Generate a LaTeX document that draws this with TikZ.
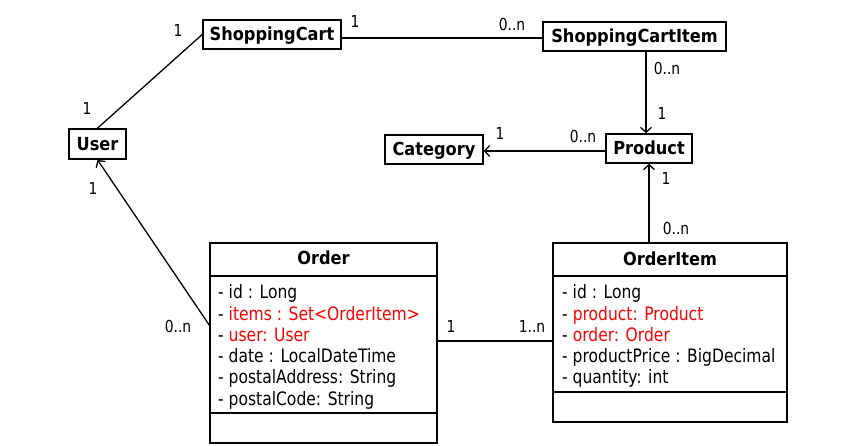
\documentclass[tikz,border=0pt]{standalone}
\usepackage{fontspec}
\setmainfont{DejaVu Sans}[FakeStretch=0.9]
\newfontfamily\attrfont{DejaVu Sans}[FakeStretch=0.84]
\usetikzlibrary{arrows.meta}
\definecolor{attrred}{RGB}{255,0,0}
\begin{document}
\begin{tikzpicture}[x=1pt,y=-1pt,
  classbox/.style={draw=black,line width=1.6pt,inner sep=0pt,
    font=\fontsize{18}{21}\selectfont\bfseries,text height=13pt,text depth=0pt},
  umlbox/.style={draw=black,line width=1.6pt,inner sep=0pt},
  titletext/.style={inner sep=0pt,anchor=base,font=\fontsize{18}{21}\selectfont\bfseries},
  attr/.style={inner sep=0pt,anchor=base west,font=\attrfont\fontsize{18.5}{21}\selectfont},
  mult/.style={inner sep=0pt,font=\attrfont\fontsize{16.5}{18}\selectfont},
  assoc/.style={draw=black,line width=1.3pt},
  nav/.style={assoc,-{Straight Barb[length=5pt,width=11pt,line width=1.3pt]}},
  divider/.style={draw=black,line width=1.6pt}
]
\useasboundingbox (0,0) rectangle (849,446);

% simple classes
\node[classbox,minimum width=138pt,minimum height=29pt] (cart) at (272,34.5) {ShoppingCart};
\node[classbox,minimum width=57pt,minimum height=30pt] (user) at (97.5,144) {User};
\node[classbox,minimum width=98pt,minimum height=29pt] (category) at (434,149.5) {Category};
\node[classbox,minimum width=86pt,minimum height=29pt] (product) at (649,148.5) {Product};
\node[classbox,minimum width=183pt,minimum height=29pt] (cartitem) at (634.5,36.5) {ShoppingCartItem};

% Order class
\node[umlbox,minimum width=227pt,minimum height=200pt] (order) at (323.5,343) {};
\node[titletext] (ordertitle) at (323.5,265) {Order};
\coordinate (od1l) at (210,276); \coordinate (od1r) at (437,276);
\coordinate (od2l) at (210,413); \coordinate (od2r) at (437,413);
\draw[divider] (od1l) -- (od1r);
\draw[divider] (od2l) -- (od2r);
\node[attr] (oa1) at (218,299) {- id : Long};
\node[attr] (oa2) at (218,320.2) {- \textcolor{attrred}{items : Set<OrderItem>}};
\node[attr] (oa3) at (218,341.4) {- \textcolor{attrred}{user: User}};
\node[attr] (oa4) at (218,362.6) {- date : LocalDateTime};
\node[attr] (oa5) at (218,383.8) {- postalAddress: String};
\node[attr] (oa6) at (218,405) {- postalCode: String};

% OrderItem class
\node[umlbox,minimum width=234pt,minimum height=179pt] (orderitem) at (670,332.5) {};
\node[titletext] (orderitemtitle) at (670,266) {OrderItem};
\coordinate (id1l) at (553,276); \coordinate (id1r) at (787,276);
\coordinate (id2l) at (553,392); \coordinate (id2r) at (787,392);
\draw[divider] (id1l) -- (id1r);
\draw[divider] (id2l) -- (id2r);
\node[attr] (ia1) at (562,299) {- id : Long};
\node[attr] (ia2) at (562,320.2) {- \textcolor{attrred}{product: Product}};
\node[attr] (ia3) at (562,341.4) {- \textcolor{attrred}{order: Order}};
\node[attr] (ia4) at (562,362.6) {- productPrice : BigDecimal};
\node[attr] (ia5) at (562,383.8) {- quantity: int};

% connectors
\draw[assoc] (user.north) -- (cart.west);
\draw[assoc] ([yshift=-3.5pt]cart.east) -- ([yshift=-1.5pt]cartitem.west);
\draw[nav] ([xshift=11.5pt]cartitem.south) -- ([xshift=-3pt]product.north);
\draw[nav] ([yshift=-2.5pt]product.west) -- ([yshift=-1.5pt]category.east);
\draw[nav] (product.south |- orderitem.north) -- (product.south);
\draw[nav] ([yshift=18pt]order.west) -- (user.south);
\draw[assoc] ([yshift=2pt]order.east) -- ([yshift=-8.5pt]orderitem.west);

% multiplicities
\node[mult] (m1) at (178,30) {1};
\node[mult] (m2) at (87,108) {1};
\node[mult] (m3) at (93,188) {1};
\node[mult] (m4) at (355,21) {1};
\node[mult] (m5) at (512,24) {0..n};
\node[mult] (m6) at (667,68) {0..n};
\node[mult] (m7) at (662,113) {1};
\node[mult] (m8) at (500,133) {1};
\node[mult] (m9) at (583,136) {0..n};
\node[mult] (m10) at (666,178) {1};
\node[mult] (m11) at (676,228) {0..n};
\node[mult] (m12) at (178,326) {0..n};
\node[mult] (m13) at (451,326) {1};
\node[mult] (m14) at (532,326) {1..n};
\end{tikzpicture}
\end{document}
